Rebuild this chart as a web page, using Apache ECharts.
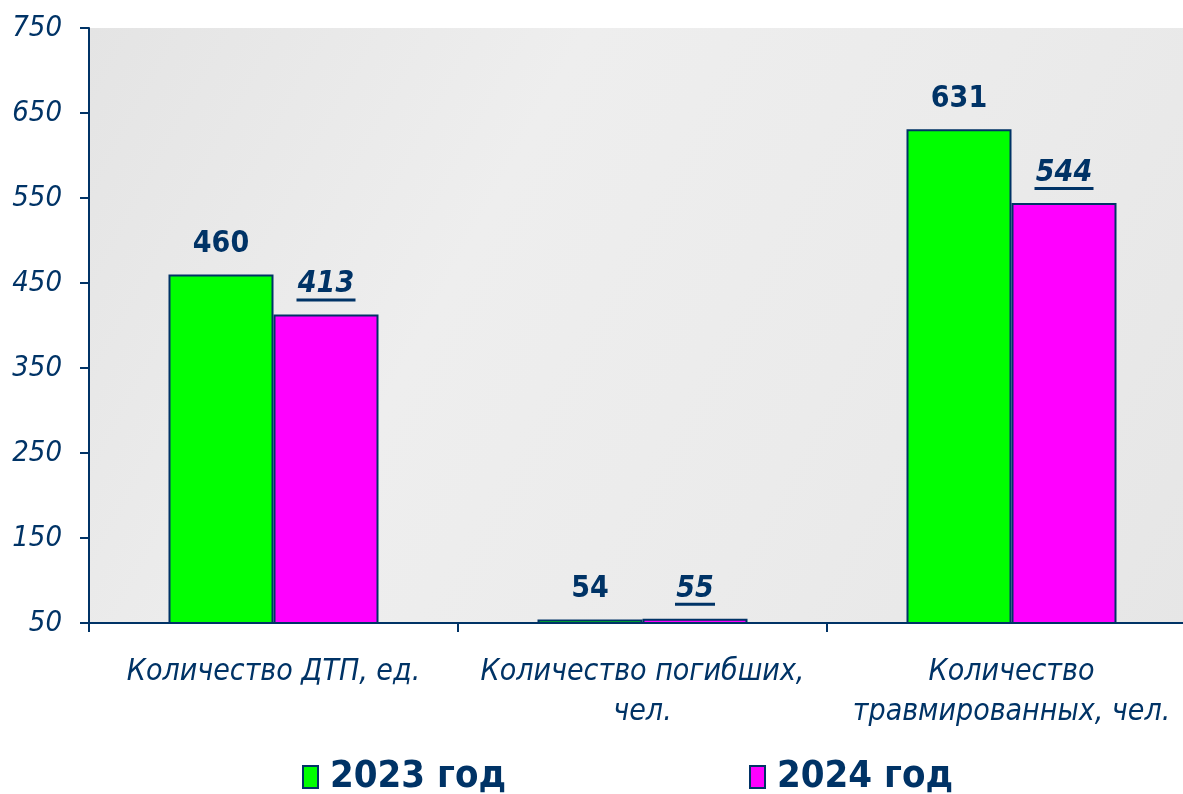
<!DOCTYPE html>
<html>
<head>
<meta charset="utf-8">
<script src="https://cdn.jsdelivr.net/npm/echarts@6/dist/echarts.min.js"></script>
<style>html,body{margin:0;padding:0;background:#fff}#c{width:1183px;height:794px}</style>
</head>
<body>
<div id="c"></div>
<script>
const categories = ['Количество ДТП, ед.', 'Количество погибших,\nчел.', 'Количество\nтравмированных, чел.'];
const seriesNames = ['2023 год', '2024 год'];
const values2023 = [460, 54, 631];
const values2024 = [413, 55, 544];
const yTicks = [50, 150, 250, 350, 450, 550, 650, 750];

const NAVY = '#003366';
const FONT = '"DejaVu Sans Condensed", "DejaVu Sans", sans-serif';
const chart = echarts.init(document.getElementById('c'), null, {renderer: 'canvas'});

chart.setOption({
  animation: false,
  backgroundColor: '#ffffff',
  grid: {
    left: 89, top: 28, height: 595, width: 1107,
    outerBoundsMode: 'none', containLabel: false,
    show: true, borderWidth: 0,
    backgroundColor: {
      type: 'linear', x: 0, y: 0, x2: 1, y2: 1,
      colorStops: [
        {offset: 0, color: '#e4e4e4'},
        {offset: 0.35, color: '#eeeeee'},
        {offset: 0.65, color: '#ebebeb'},
        {offset: 1, color: '#e6e6e6'}
      ]
    }
  },
  legend: {
    left: 302, top: 758, padding: 0,
    itemWidth: 15, itemHeight: 22, itemGap: 243,
    icon: 'rect',
    textStyle: {fontFamily: FONT, fontWeight: 'bold', fontSize: 38, color: NAVY, padding: [0, 0, 0, 7]},
    itemStyle: {borderColor: NAVY, borderWidth: 2},
    data: seriesNames
  },
  xAxis: {
    type: 'category',
    data: categories,
    axisLine: {lineStyle: {color: NAVY, width: 2}},
    axisTick: {show: true, length: 9, lineStyle: {color: NAVY, width: 2}},
    axisLabel: {
      margin: 29, interval: 0,
      fontFamily: FONT, fontStyle: 'italic', fontSize: 30, color: NAVY, lineHeight: 40
    }
  },
  yAxis: {
    type: 'value',
    min: 50, max: 750,
    axisLine: {show: true, lineStyle: {color: NAVY, width: 2}},
    axisTick: {show: true, length: 9, customValues: yTicks, lineStyle: {color: NAVY, width: 2}},
    axisLabel: {
      customValues: yTicks, margin: 27,
      fontFamily: FONT, fontStyle: 'italic', fontSize: 29, color: NAVY
    },
    splitLine: {show: false}
  },
  series: [
    {
      name: seriesNames[0], type: 'bar', data: values2023,
      barWidth: 105, barGap: '0%',
      itemStyle: {color: '#00ff00', borderColor: NAVY, borderWidth: 2},
      label: {
        show: true, position: 'top', distance: 15,
        fontFamily: FONT, fontWeight: 'bold', fontSize: 30, color: NAVY
      }
    },
    {
      name: seriesNames[1], type: 'bar', data: values2024,
      barWidth: 105,
      itemStyle: {color: '#ff00ff', borderColor: NAVY, borderWidth: 2},
      label: {
        show: true, position: 'top', distance: 13,
        formatter: p => '{n|' + p.value + '}\n{u' + String(p.value).length + '|}',
        rich: {
          n: {fontFamily: FONT, fontWeight: 'bold', fontStyle: 'italic', fontSize: 30, color: NAVY, lineHeight: 28, align: 'center'},
          u2: {backgroundColor: NAVY, height: 3, width: 40, lineHeight: 3, align: 'center'},
          u3: {backgroundColor: NAVY, height: 3, width: 59, lineHeight: 3, align: 'center'}
        }
      }
    }
  ]
});
</script>
</body>
</html>
